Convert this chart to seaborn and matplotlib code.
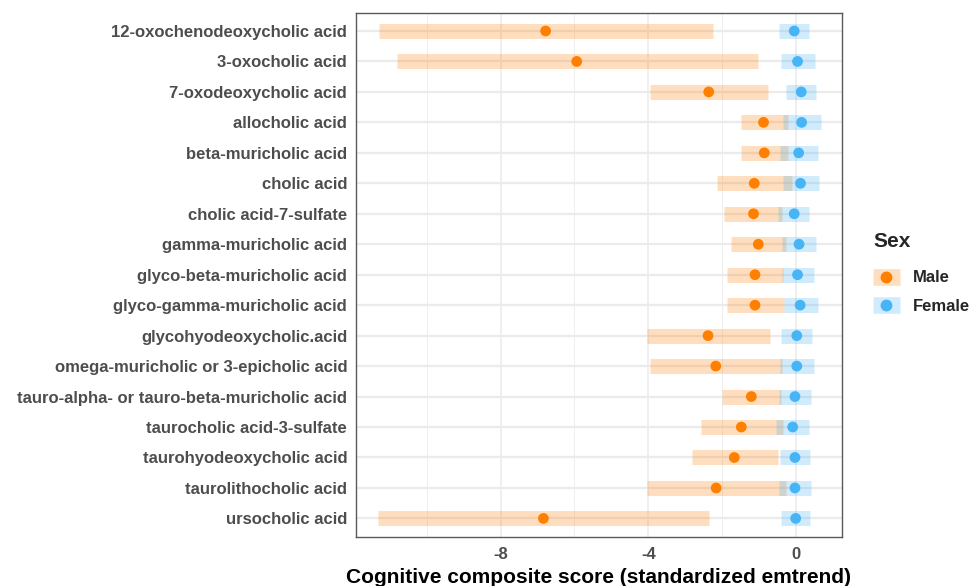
import matplotlib
matplotlib.use("Agg")
import matplotlib.pyplot as plt
from matplotlib.lines import Line2D
from matplotlib.legend_handler import HandlerTuple
import seaborn as sns
import pandas as pd

# Bile acids, listed top to bottom
acids = [
    "12-oxochenodeoxycholic acid",
    "3-oxocholic acid",
    "7-oxodeoxycholic acid",
    "allocholic acid",
    "beta-muricholic acid",
    "cholic acid",
    "cholic acid-7-sulfate",
    "gamma-muricholic acid",
    "glyco-beta-muricholic acid",
    "glyco-gamma-muricholic acid",
    "glycohyodeoxycholic.acid",
    "omega-muricholic or 3-epicholic acid",
    "tauro-alpha- or tauro-beta-muricholic acid",
    "taurocholic acid-3-sulfate",
    "taurohyodeoxycholic acid",
    "taurolithocholic acid",
    "ursocholic acid",
]

# Estimated trends and 95% intervals, males
male_est = [-6.78, -5.94, -2.37, -0.89, -0.87, -1.14, -1.16, -1.03, -1.12,
            -1.12, -2.39, -2.18, -1.22, -1.49, -1.68, -2.17, -6.84]
male_lo = [-11.29, -10.81, -3.95, -1.51, -1.50, -2.14, -1.95, -1.77, -1.87,
           -1.89, -4.03, -3.95, -2.01, -2.59, -2.81, -4.04, -11.32]
male_hi = [-2.25, -1.05, -0.78, -0.24, -0.24, -0.12, -0.38, -0.28, -0.35,
           -0.33, -0.72, -0.39, -0.41, -0.35, -0.51, -0.28, -2.36]

# Estimated trends and 95% intervals, females
female_est = [-0.06, 0.03, 0.13, 0.14, 0.06, 0.11, -0.06, 0.07, 0.03,
              0.10, 0.01, 0.01, -0.04, -0.10, -0.04, -0.04, -0.02]
female_lo = [-0.46, -0.42, -0.28, -0.37, -0.44, -0.37, -0.49, -0.38, -0.40,
             -0.33, -0.41, -0.45, -0.46, -0.54, -0.45, -0.46, -0.41]
female_hi = [0.33, 0.49, 0.54, 0.67, 0.59, 0.60, 0.35, 0.54, 0.48,
             0.57, 0.42, 0.48, 0.39, 0.35, 0.38, 0.40, 0.37]

sexes = ["Male", "Female"]
palette = {"Male": "#FF7F00", "Female": "#46B4F5"}

df = pd.concat([
    pd.DataFrame({"acid": acids, "est": male_est, "lo": male_lo,
                  "hi": male_hi, "Sex": "Male"}),
    pd.DataFrame({"acid": acids, "est": female_est, "lo": female_lo,
                  "hi": female_hi, "Sex": "Female"}),
], ignore_index=True)

sns.set_theme(style="white")
plt.rcParams["font.family"] = ["Liberation Sans", "DejaVu Sans"]
plt.rcParams["font.weight"] = "bold"

fig = plt.figure(figsize=(9.73, 5.86), dpi=100)
ax = fig.add_axes([355.5 / 973, 1 - 536.7 / 586, (842.3 - 355.5) / 973,
                   (536.7 - 12.7) / 586])

ypos = {a: i for i, a in enumerate(acids)}

# grid
for x in [-10, -6, -2]:
    ax.axvline(x, color="#EBEBEB", lw=0.6, zorder=0)
for x in [-8, -4, 0]:
    ax.axvline(x, color="#EBEBEB", lw=1.1, zorder=0)
for i in range(len(acids)):
    ax.axhline(i, color="#EBEBEB", lw=1.6, zorder=0)

# confidence intervals as translucent thick bars
for sex in sexes:
    sub = df[df["Sex"] == sex]
    ax.hlines(sub["acid"].map(ypos), sub["lo"], sub["hi"],
              colors=palette[sex], alpha=0.25, lw=10.8, zorder=2,
              capstyle="butt")

# point estimates
df["y"] = df["acid"].map(ypos)
sns.scatterplot(data=df, x="est", y="y", hue="Sex", palette=palette,
                hue_order=sexes, s=60, edgecolor="none", linewidth=0,
                ax=ax, zorder=3, legend=False)

ax.set_xlim(-11.92, 1.24)
ax.set_ylim(len(acids) - 1 + 0.6, -0.6)
ax.set_xticks([-8, -4, 0])
ax.set_xticklabels(["-8", "-4", "0"])
ax.set_yticks(range(len(acids)))
ax.set_yticklabels(acids)
ax.tick_params(axis="both", length=3.5, width=1, color="#333333",
               labelsize=12, labelcolor="#4D4D4D", pad=2.5)
ax.tick_params(axis="x", pad=4)
for lab in ax.get_xticklabels() + ax.get_yticklabels():
    lab.set_fontweight("bold")
ax.set_xlabel("Cognitive composite score (standardized emtrend)",
              fontsize=15, fontweight="bold", color="black", labelpad=4)
ax.set_ylabel("")
for sp in ax.spines.values():
    sp.set_color("#5A5A5A")
    sp.set_linewidth(1.0)

# legend: bar + point keys
handles = []
for sex in sexes:
    bar = Line2D([0], [0], color=palette[sex], alpha=0.25, lw=12,
                 solid_capstyle="butt")
    dot = Line2D([0], [0], color=palette[sex], marker="o", ms=7.5, lw=0)
    handles.append((bar, dot))
leg = fig.legend(handles, sexes, title="Sex", loc="upper left",
                 bbox_to_anchor=(858 / 973, 1 - 217 / 586), frameon=False,
                 handler_map={tuple: HandlerTuple(ndivide=1)},
                 handlelength=1.6, handletextpad=0.78, labelspacing=0.8,
                 prop={"size": 12, "weight": "bold"},
                 title_fontproperties={"size": 15, "weight": "bold"})
leg._legend_box.align = "left"
leg._legend_box.sep = 14

fig.savefig("out.png", dpi=100)
